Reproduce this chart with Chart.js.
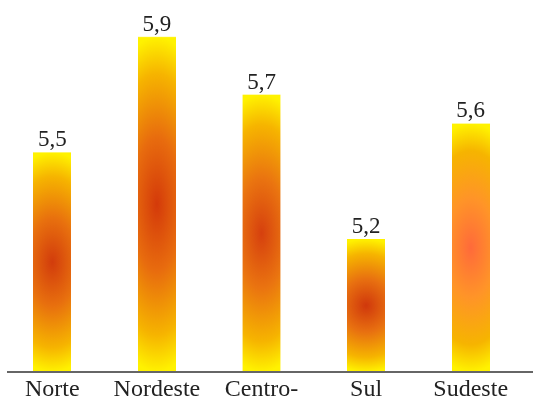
<!DOCTYPE html>
<html>
<head>
<meta charset="utf-8">
<script src="https://cdn.jsdelivr.net/npm/chart.js@4/dist/chart.umd.min.js"></script>
<style>
html,body{margin:0;padding:0;background:#fff;}
#wrap{width:533px;height:401px;}
</style>
</head>
<body>
<div id="wrap"><canvas id="c"></canvas></div>
<script>
const categories = [["Norte"], ["Nordeste"], ["Centro-", "Oeste"], ["Sul"], ["Sudeste"]];
const values = [5.5, 5.9, 5.7, 5.2, 5.6];
const valueLabels = ["5,5", "5,9", "5,7", "5,2", "5,6"];
const centerColors = ["#d23c0c", "#d43a0a", "#d6400e", "#d0380c", "#ff6a3a"];
const midColors = ["#e8700e", "#e86c0e", "#ea7410", "#e87010", "#ff9428"];

const BAR_W = 38;
const patternCache = {};
function makePattern(ctx2, i, left, top, w, h) {
  const key = i + ':' + left + ':' + top + ':' + w + ':' + h;
  if (patternCache[key]) return patternCache[key];
  const S = 200;
  const off = document.createElement('canvas');
  off.width = S; off.height = S;
  const o = off.getContext('2d');
  o.fillStyle = '#fff000';
  o.fillRect(0, 0, S, S);
  o.save();
  o.translate(S / 2, S / 2);
  o.scale(3.2, 1);
  const g = o.createRadialGradient(0, 0, 0, 0, 0, S / 2);
  g.addColorStop(0, centerColors[i]);
  g.addColorStop(0.4, midColors[i]);
  g.addColorStop(0.78, '#f6b400');
  g.addColorStop(1, '#fff200');
  o.fillStyle = g;
  o.fillRect(-S, -S, 2 * S, 2 * S);
  o.restore();
  const pat = ctx2.createPattern(off, 'no-repeat');
  const m = new DOMMatrix();
  m.translateSelf(left, top);
  m.scaleSelf(w / S, h / S);
  pat.setTransform(m);
  patternCache[key] = pat;
  return pat;
}

const labelPlugin = {
  id: 'vlabels',
  afterDatasetsDraw(chart) {
    const ctx = chart.ctx;
    const meta = chart.getDatasetMeta(0);
    const ys = chart.scales.y;
    ctx.save();
    ctx.strokeStyle = '#666';
    ctx.lineWidth = 2;
    ctx.beginPath();
    ctx.moveTo(7, ys.bottom);
    ctx.lineTo(chart.width, ys.bottom);
    ctx.stroke();
    ctx.font = '23px "Liberation Serif", serif';
    ctx.fillStyle = '#222';
    ctx.textAlign = 'center';
    ctx.textBaseline = 'alphabetic';
    meta.data.forEach((el, i) => {
      ctx.fillText(valueLabels[i], el.x, el.y - 6);
    });
    ctx.restore();
  }
};

new Chart(document.getElementById('c'), {
  type: 'bar',
  data: {
    labels: categories,
    datasets: [{
      data: values,
      barThickness: BAR_W,
      borderWidth: 0,
      backgroundColor: (context) => {
        const chart = context.chart;
        const xs = chart.scales.x, ys = chart.scales.y;
        if (!chart.chartArea || !xs || !ys) return '#f8b800';
        const i = context.dataIndex;
        const cx = xs.getPixelForValue(i);
        const top = ys.getPixelForValue(values[i]);
        const bottom = ys.bottom;
        return makePattern(chart.ctx, i, cx - BAR_W / 2, top, BAR_W, bottom - top);
      }
    }]
  },
  options: {
    responsive: true,
    maintainAspectRatio: false,
    animation: false,
    layout: { padding: { top: 5, left: 0, right: 10, bottom: 0 } },
    plugins: { legend: { display: false }, tooltip: { enabled: false } },
    scales: {
      x: {
        grid: { display: false, drawTicks: false },
        border: { display: false },
        ticks: {
          color: '#222',
          padding: 3,
          font: { family: '"Liberation Serif", serif', size: 24 },
          maxRotation: 0,
          autoSkip: false
        },
        afterFit: (axis) => { axis.height = 29; }
      },
      y: {
        display: false,
        min: 4.74,
        max: 6.01
      }
    }
  },
  plugins: [labelPlugin]
});
</script>
</body>
</html>
